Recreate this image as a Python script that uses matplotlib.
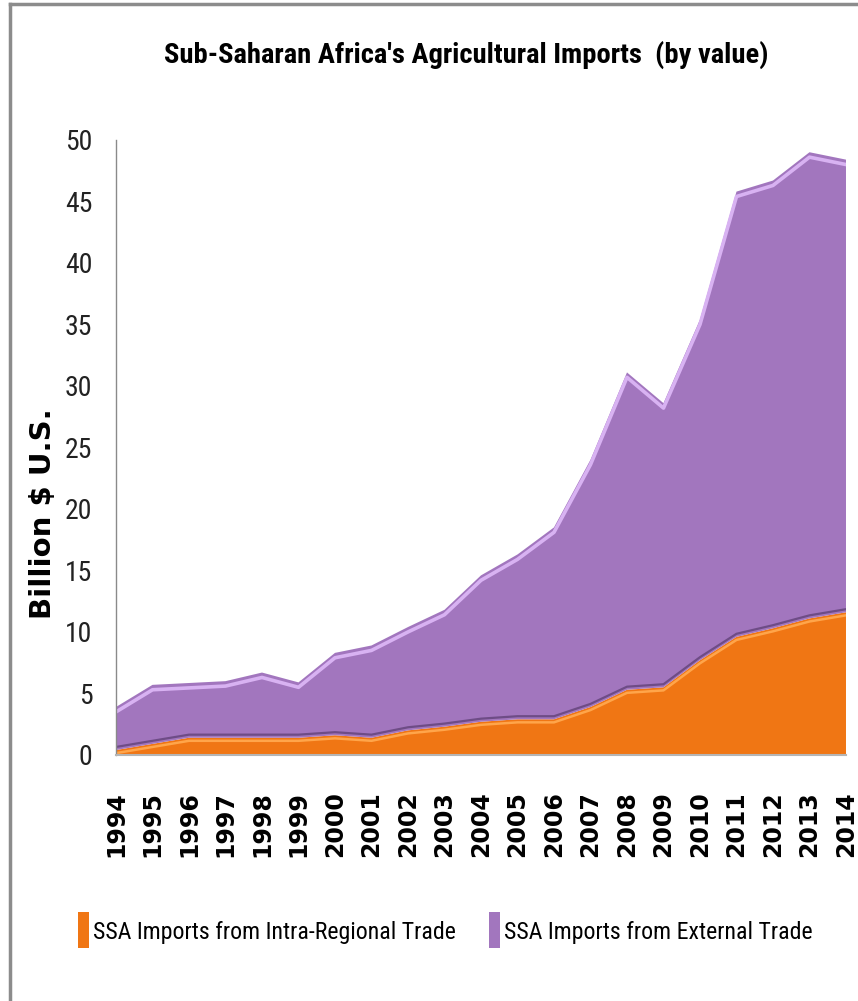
import matplotlib.pyplot as plt
from matplotlib.lines import Line2D
from matplotlib.patches import Patch

# Sub-Saharan Africa agricultural imports, billion US$
years = list(range(1994, 2015))
intra_regional = [0.4, 0.9, 1.4, 1.4, 1.4, 1.4, 1.6, 1.4, 2.0, 2.3, 2.7,
                  2.9, 2.9, 3.9, 5.3, 5.5, 7.7, 9.6, 10.3, 11.1, 11.6]
external = [3.5, 4.8, 4.45, 4.6, 5.3, 4.5, 6.7, 7.5, 8.4, 9.5, 11.9,
            13.4, 15.6, 20.1, 25.8, 23.1, 27.7, 36.2, 36.4, 37.9, 36.8]
y_ticks = list(range(0, 51, 5))

series_labels = ["SSA Imports from Intra-Regional Trade",
                 "SSA Imports from External Trade"]
ORANGE = "#F07614"
PURPLE = "#A276BE"
NARROW = ["Roboto Condensed", "Roboto", "DejaVu Sans"]


def fit_width(fig, txt, width_px):
    """Rescale a text's font size so it spans width_px on the canvas."""
    renderer = fig.canvas.get_renderer()
    w = txt.get_window_extent(renderer).width
    txt.set_fontsize(txt.get_fontsize() * width_px / w)


fig = plt.figure(figsize=(8.58, 10.01), dpi=100)
ax = fig.add_axes([0.1352, 0.2458, 0.8508, 0.6144])

ax.stackplot(years, intra_regional, external,
             colors=[ORANGE, PURPLE], linewidth=0)

# bevel-style highlights along the area edges
total = [a + b for a, b in zip(intra_regional, external)]
ax.plot(years, [t - 0.4 for t in total], color="#D8B2F2", lw=2.6,
        solid_joinstyle="round")
ax.plot(years, [v + 0.25 for v in intra_regional], color="#6E4C86", lw=1.6)
ax.plot(years, [v - 0.25 for v in intra_regional], color="#FFA54A", lw=1.8)

ax.set_xlim(1994, 2014)
ax.set_ylim(0, 50)
ax.set_yticks(y_ticks)
ax.set_yticklabels([str(t) for t in y_ticks], family=NARROW, fontsize=20,
                   color="#222222")
ax.set_xticks(years)
ax.set_xticklabels([str(y) for y in years], rotation=90, fontsize=17,
                   fontweight="bold", family="DejaVu Sans", va="top")
ax.tick_params(axis="both", length=0)
ax.tick_params(axis="y", pad=17)
ax.tick_params(axis="x", pad=26)

for side in ("top", "right"):
    ax.spines[side].set_visible(False)
ax.spines["left"].set_color("#8a8a8a")
ax.spines["left"].set_linewidth(1.0)
ax.spines["bottom"].set_color("#b5b5b5")
ax.spines["bottom"].set_linewidth(1.5)

ax.set_ylabel("Billion $ U.S.", fontsize=21, fontweight="bold",
              family="DejaVu Sans")
ax.yaxis.set_label_coords(-0.081, 0.392)

title = fig.text(0.543, 0.945,
                 "Sub-Saharan Africa's Agricultural Imports  (by value)",
                 ha="center", va="center", fontsize=30, fontweight="bold",
                 family=NARROW)

handles = [Patch(facecolor=ORANGE), Patch(facecolor=PURPLE)]
leg = fig.legend(handles, series_labels, loc="center",
                 bbox_to_anchor=(0.519, 0.071), ncol=2, frameon=False,
                 handlelength=0.4, handleheight=1.6, handletextpad=0.15,
                 columnspacing=1.2, prop={"family": NARROW, "size": 20})

fit_width(fig, title, 603)
fit_width(fig, leg.get_texts()[0], 363)
leg.get_texts()[1].set_fontsize(leg.get_texts()[0].get_fontsize())

# chart-area border on the top and left edges
fig.add_artist(Line2D([0.0117, 0.0117], [0, 0.996], transform=fig.transFigure,
                      color="#8c8c8c", lw=2.5))
fig.add_artist(Line2D([0.0117, 1.0], [0.996, 0.996], transform=fig.transFigure,
                      color="#8c8c8c", lw=2.5))

fig.savefig("out.png", dpi=100)
